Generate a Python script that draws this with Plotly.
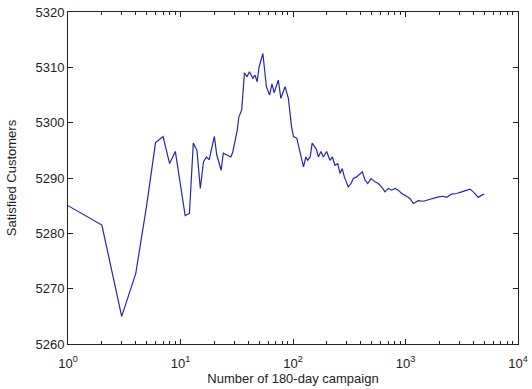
import plotly.graph_objects as go

# Campaign count (log scale) and satisfied customers after each count
campaigns = [1, 2, 3, 4, 5, 6, 7, 8, 9, 11, 12, 13, 14, 15, 16, 17, 18, 19, 20,
             21, 23, 24, 26, 28, 29, 30, 32, 33, 35, 37, 39, 41, 44, 46, 48, 50,
             53, 54, 58, 62, 65, 68, 74, 78, 85, 91, 97, 101, 108, 113, 120, 124,
             130, 135, 142, 148, 155, 162, 168, 177, 186, 199, 213, 224, 236, 250,
             262, 274, 286, 310, 328, 344, 368, 394, 413, 437, 461, 494, 536, 573,
             614, 657, 703, 754, 807, 863, 925, 990, 1096, 1173, 1300, 1440, 1595,
             1766, 1957, 2168, 2323, 2575, 2852, 3160, 3450, 3744, 4006, 4296,
             4436, 4755, 5000]
satisfied = [5285.0, 5281.5, 5265.0, 5272.7, 5285.0, 5296.4, 5297.5, 5292.6, 5294.8,
             5283.2, 5283.6, 5296.3, 5295.0, 5288.1, 5292.9, 5293.8, 5293.3, 5295.5, 5297.5,
             5294.2, 5291.4, 5294.5, 5294.2, 5293.8, 5294.5, 5296.0, 5298.7, 5301.0, 5302.3,
             5309.0, 5308.3, 5309.2, 5308.0, 5308.6, 5307.4, 5310.1, 5312.2, 5312.5, 5306.5,
             5305.0, 5307.0, 5305.4, 5307.7, 5304.4, 5306.5, 5304.4, 5299.3, 5297.5, 5297.2,
             5295.4, 5293.2, 5292.0, 5293.8, 5293.2, 5293.8, 5296.3, 5295.7, 5295.1, 5293.8,
             5294.8, 5293.8, 5294.8, 5293.2, 5293.8, 5292.3, 5292.6, 5290.8, 5291.7, 5290.2,
             5288.4, 5289.0, 5289.9, 5290.2, 5290.8, 5291.1, 5289.6, 5289.0, 5289.9, 5289.3,
             5289.0, 5288.4, 5287.5, 5288.1, 5287.8, 5288.1, 5287.8, 5287.2, 5286.9, 5286.3,
             5285.4, 5285.9, 5285.8, 5286.1, 5286.3, 5286.6, 5286.7, 5286.5, 5287.1, 5287.2,
             5287.5, 5287.7, 5288.0, 5287.5, 5286.7, 5286.5, 5286.9, 5287.1]

x_ticks = [1, 10, 100, 1000, 10000]
x_tick_text = ["10<sup>0</sup>", "10<sup>1</sup>", "10<sup>2</sup>",
               "10<sup>3</sup>", "10<sup>4</sup>"]
x_minor = [m * d for d in (1, 10, 100, 1000) for m in range(2, 10)]
y_ticks = [5260, 5270, 5280, 5290, 5300, 5310, 5320]

fig = go.Figure(
    go.Scatter(x=campaigns, y=satisfied, mode="lines",
               line=dict(color="#2626b0", width=1.2))
)

axis_common = dict(
    showline=True, linecolor="#222", linewidth=1, mirror="ticks",
    ticks="inside", tickcolor="#222", ticklen=5, showgrid=False, zeroline=False,
    tickfont=dict(size=13, color="#222"), automargin=False,
)

fig.update_xaxes(
    type="log", range=[0, 4], tickvals=x_ticks, ticktext=x_tick_text,
    ticklabelstandoff=7,
    minor=dict(tickvals=x_minor, ticks="inside", ticklen=3, tickcolor="#222"),
    title=dict(text="Number of 180-day campaign", font=dict(size=13, color="#222"),
               standoff=3),
    **axis_common,
)
fig.update_yaxes(
    range=[5260, 5320], tickvals=y_ticks,
    title=dict(text="Satisfied Customers", font=dict(size=13, color="#222"),
               standoff=15),
    **axis_common,
)

fig.update_layout(
    width=532, height=389,
    margin=dict(l=68, r=14, t=12, b=45),
    paper_bgcolor="white", plot_bgcolor="white",
    font=dict(family="Liberation Sans, Arial, sans-serif"),
    showlegend=False,
)

fig.write_html("out.html")
